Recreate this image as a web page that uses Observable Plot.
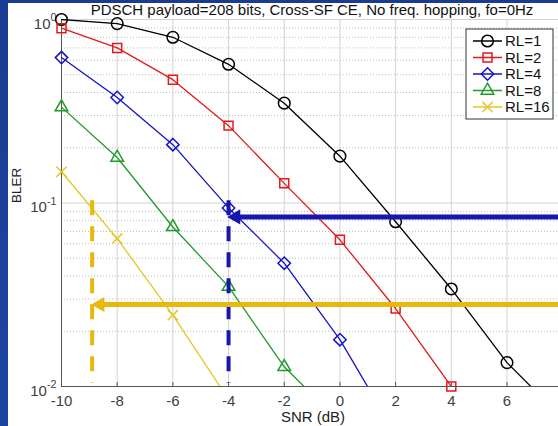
<!DOCTYPE html>
<html><head><meta charset="utf-8">
<script src="https://cdn.jsdelivr.net/npm/d3@7"></script>
<script src="https://cdn.jsdelivr.net/npm/@observablehq/plot@0.6"></script>
<style>
html,body{margin:0;padding:0;width:558px;height:426px;overflow:hidden;}
body{background:linear-gradient(180deg,#1b3b92 0%,#1d44a2 100%);position:relative;font-family:"Liberation Sans",Arial,sans-serif;}
#panel{position:absolute;left:8px;top:3px;width:550px;height:423px;background:#fff;}
#chart{position:absolute;left:0;top:0;}
</style></head><body><div id="panel"></div><div id="chart"></div>
<script>
// ---- data ----
const seriesNames = ["RL=1", "RL=2", "RL=4", "RL=8", "RL=16"];
const seriesColors = ["#000000", "#e3191c", "#1414c8", "#1f9a2b", "#e2c825"];
const seriesSymbols = ["circle", "square2", "diamond2", "triangle2", "times"];
const seriesR = [5.8, 5.7, 5.6, 6.0, 4.8];
const snr = [-10, -8, -6, -4, -2, 0, 2, 4, 6, 8];
const blerRL1 = [1.0, 0.95, 0.80, 0.57, 0.35, 0.18, 0.079, 0.034, 0.0135, 0.0067];
const blerRL2 = [0.897, 0.70, 0.47, 0.264, 0.128, 0.063, 0.0266, 0.01];
const blerRL4 = [0.62, 0.376, 0.208, 0.094, 0.047, 0.018, 0.0055];
const blerRL8 = [0.333, 0.177, 0.074, 0.035, 0.0128, 0.0064];
const blerRL16 = [0.148, 0.064, 0.0245, 0.0085];
const blerAll = [blerRL1, blerRL2, blerRL4, blerRL8, blerRL16];

const xTicks = [-10, -8, -6, -4, -2, 0, 2, 4, 6];
const yTicks = [1, 0.1, 0.01];
const titleText = "PDSCH payload=208 bits, Cross-SF CE, No freq. hopping, fo=0Hz";
const xLabel = "SNR (dB)";
const yLabel = "BLER";

// annotations: horizontal arrows and dashed verticals
const arrowLevel = [0.084, 0.028];
const arrowTip = [-4.05, -8.93];
const arrowColor = ["#1717b0", "#e8b90c"];
const dashX = [-4.0, -8.9];
const dashTop = [0.103, 0.103];
const dashBottom = [0.0104, 0.0104];
const dashColor = ["#1717b0", "#e8b90c"];

// ---- build ----
const rows = [];
blerAll.forEach((vals, s) => vals.forEach((v, i) => rows.push({snr: snr[i], bler: v, series: seriesNames[s]})));
const minor = [];
[0.01, 0.1].forEach(d => { for (let k = 2; k <= 9; k++) minor.push(k * d); });
const arrows = arrowLevel.map((y, i) => ({y, tip: arrowTip[i], color: arrowColor[i]}));
const dashes = dashX.map((x, i) => ({x, y1: dashTop[i], y2: dashBottom[i], color: dashColor[i]}));

const dotMarks = seriesNames.map((name, s) =>
  Plot.dot(rows.filter(d => d.series === name && d.bler >= 0.0099 && d.snr <= 7.8), {
    x: "snr", y: "bler", symbol: () => seriesSymbols[s], stroke: seriesColors[s],
    fill: "none", r: seriesR[s], strokeWidth: 1.5
  })
);

const svg = Plot.plot({
  width: 558, height: 426,
  marginLeft: 61, marginRight: 0, marginTop: 19, marginBottom: 40,
  style: {background: "transparent", fontFamily: "'Liberation Sans', Arial, sans-serif", fontSize: "15px", overflow: "visible"},
  x: {domain: [-10, 7.85], axis: null},
  y: {type: "log", domain: [0.01, 1], axis: null},
  symbol: {type: "identity"},
  marks: [
    Plot.gridX(xTicks, {stroke: "#d2d2d2", strokeOpacity: 1}),
    Plot.ruleY(minor, {stroke: "#bdbdbd", strokeDasharray: "1,2"}),
    Plot.gridY(yTicks, {stroke: "#d2d2d2", strokeOpacity: 1}),
    Plot.ruleX([-10], {stroke: "#555"}),
    Plot.ruleY([0.01], {stroke: "#555"}),
    Plot.axisX(xTicks, {tickSize: -4, tickPadding: 13, stroke: "#555", fill: "#404040", fontSize: 15, tickFormat: d => String(d)}),
    Plot.axisY(yTicks, {tickSize: 0, tickPadding: 5, fill: "#404040", fontSize: 15, tickFormat: d => "10^" + Math.round(Math.log10(d))}),
    Plot.line(rows, {x: "snr", y: "bler", z: "series", stroke: d => seriesColors[seriesNames.indexOf(d.series)], strokeWidth: 1.3, clip: true}),
    ...dotMarks,
    Plot.ruleX(dashes, {x: "x", y1: "y1", y2: "y2", stroke: "color", strokeWidth: 4, strokeDasharray: "15,11"}),
    Plot.ruleY(arrows, {y: "y", x1: d => d.tip + 0.35, x2: 8, stroke: "color", strokeWidth: 5}),
    Plot.dot(arrows, {x: "tip", y: "y", symbol: "triangle", rotate: -90, r: 5.6, fill: "color", stroke: "none", dx: 8.7}),
    Plot.text([titleText], {frameAnchor: "top", lineAnchor: "middle", dy: -9, dx: 2, fill: "#111", fontSize: 15}),
    Plot.text([xLabel], {frameAnchor: "bottom", lineAnchor: "middle", dy: 31, dx: 3, fill: "#222", fontSize: 15}),
    Plot.text([yLabel], {frameAnchor: "left", dx: -45, rotate: -90, fill: "#222", fontSize: 13.5})
  ]
});

// superscript y tick labels
d3.select(svg).selectAll('g[aria-label="y-axis tick label"] text').each(function () {
  const parts = this.textContent.split("^");
  const t = d3.select(this);
  t.text(null);
  t.append("tspan").attr("dy", "0.3em").text(parts[0]);
  t.append("tspan").attr("dy", "-0.7em").attr("font-size", "0.72em").text(parts[1]);
});

// legend
const lg = d3.select(svg).append("g").attr("class", "legend");
const lx = 466, ly = 29, lw = 87, lh = 90, rowH = 16.5;
lg.append("rect").attr("x", lx).attr("y", ly).attr("width", lw).attr("height", lh)
  .attr("fill", "#fff").attr("stroke", "#333").attr("stroke-width", 1);
const d3Sym = {circle: d3.symbolCircle, square2: d3.symbolSquare2, diamond2: d3.symbolDiamond2, triangle2: d3.symbolTriangle2, times: d3.symbolTimes};
seriesNames.forEach((name, i) => {
  const cy = ly + 12 + i * rowH;
  lg.append("line").attr("x1", lx + 7).attr("x2", lx + 36).attr("y1", cy).attr("y2", cy)
    .attr("stroke", seriesColors[i]).attr("stroke-width", 1.5);
  lg.append("path").attr("transform", `translate(${lx + 21.5},${cy})`)
    .attr("d", d3.symbol(d3Sym[seriesSymbols[i]], Math.PI * seriesR[i] * seriesR[i])())
    .attr("fill", "none").attr("stroke", seriesColors[i]).attr("stroke-width", 1.5);
  lg.append("text").attr("x", lx + 39).attr("y", cy).attr("dy", "0.36em")
    .attr("text-anchor", "start").attr("font-size", 15).attr("fill", "#111").text(name);
});

document.getElementById("chart").appendChild(svg);
</script></body></html>
